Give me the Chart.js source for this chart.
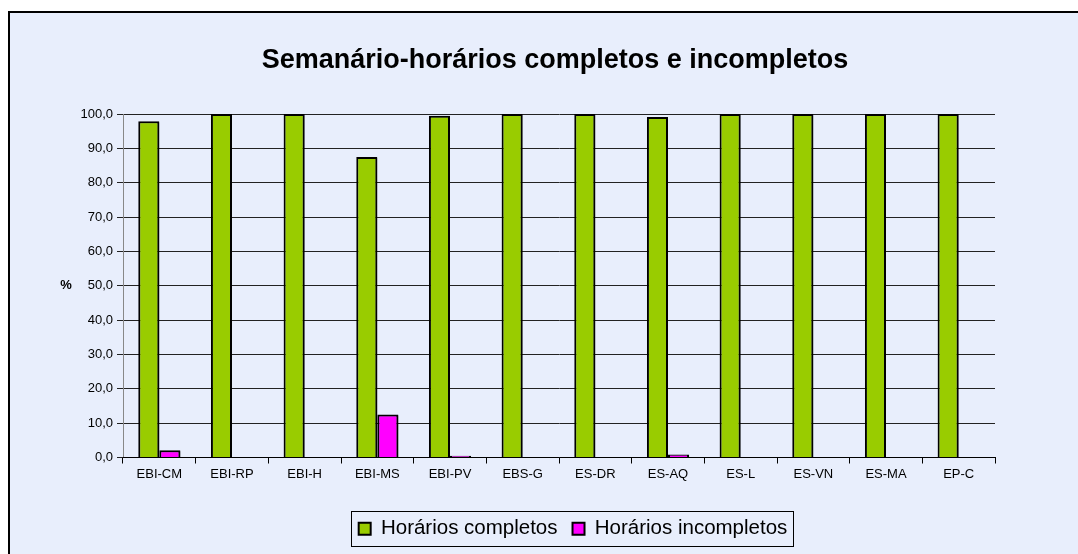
<!DOCTYPE html>
<html>
<head>
<meta charset="utf-8">
<script src="https://cdn.jsdelivr.net/npm/chart.js@4.4.1/dist/chart.umd.min.js"></script>
<style>
  html, body { margin: 0; padding: 0; background: #ffffff; }
  #wrap { width: 1078px; height: 554px; }
</style>
</head>
<body>
<div id="wrap"><canvas id="myChart" width="1078" height="554"></canvas></div>
<script>
const categories = ['EBI-CM', 'EBI-RP', 'EBI-H', 'EBI-MS', 'EBI-PV', 'EBS-G', 'ES-DR', 'ES-AQ', 'ES-L', 'ES-VN', 'ES-MA', 'EP-C'];
const completos = [97.9, 100, 100, 87.5, 99.5, 100, 100, 99.1, 100, 100, 100, 100];
const incompletos = [2.1, 0, 0, 12.5, 0.5, 0, 0, 0.9, 0, 0, 0, 0];
const titleText = 'Semanário-horários completos e incompletos';
const seriesNames = ['Horários completos', 'Horários incompletos'];

const FONT = '"Liberation Sans", Arial, sans-serif';
const LEGEND_SHIFT = 18;

const frame = {
    id: 'frame',
    afterLayout: (chart) => {
        // move legend a little right, like the original
        chart.legend.left += LEGEND_SHIFT;
        chart.legend.right += LEGEND_SHIFT;
    },
    beforeDraw: (chart) => {
        const ctx = chart.ctx;
        ctx.save();
        ctx.fillStyle = '#ffffff';
        ctx.fillRect(0, 0, chart.width, chart.height);
        ctx.fillStyle = '#e8eefc';
        ctx.fillRect(8, 11, chart.width, chart.height);
        ctx.strokeStyle = '#000000';
        ctx.lineWidth = 2;
        ctx.beginPath();
        ctx.moveTo(9, chart.height);
        ctx.lineTo(9, 12);
        ctx.lineTo(chart.width, 12);
        ctx.stroke();
        ctx.restore();
    },
    beforeDatasetsDraw: (chart) => {
        const ctx = chart.ctx;
        ctx.save();
        ctx.shadowColor = 'rgba(0,0,0,0.35)';
        ctx.shadowOffsetX = 2;
        ctx.shadowOffsetY = 1;
        ctx.shadowBlur = 0;
    },
    afterDatasetsDraw: (chart) => {
        chart.ctx.restore();
    },
    afterDraw: (chart) => {
        const ctx = chart.ctx;
        ctx.save();
        // "%" axis label
        ctx.fillStyle = '#000000';
        ctx.font = 'bold 13px ' + FONT;
        ctx.textAlign = 'center';
        ctx.textBaseline = 'middle';
        ctx.fillText('%', 66, (chart.chartArea.top + chart.chartArea.bottom) / 2);
        // legend box (hit boxes are already moved at draw time)
        const boxes = chart.legend.legendHitBoxes;
        if (boxes && boxes.length) {
            const first = boxes[0];
            const last = boxes[boxes.length - 1];
            const x0 = first.left - 8;
            const x1 = last.left + last.width + 5;
            const cy = first.top + first.height / 2;
            ctx.strokeStyle = '#000000';
            ctx.lineWidth = 1;
            ctx.strokeRect(Math.round(x0) + 0.5, Math.round(cy - 17.5) + 0.5, Math.round(x1 - x0), 35);
        }
        ctx.restore();
    }
};

const ctx = document.getElementById('myChart').getContext('2d');
const myChart = new Chart(ctx, {
    type: 'bar',
    data: {
        labels: categories,
        datasets: [{
            label: seriesNames[0],
            data: completos,
            backgroundColor: '#99cc00',
            borderColor: '#000000',
            borderWidth: 2
        }, {
            label: seriesNames[1],
            data: incompletos,
            backgroundColor: '#ff00ff',
            borderColor: '#000000',
            borderWidth: 2
        }]
    },
    options: {
        responsive: false,
        animation: false,
        devicePixelRatio: 1,
        categoryPercentage: 0.58,
        barPercentage: 1,
        layout: {
            padding: { left: 32, right: 0, top: 0, bottom: 5 }
        },
        scales: {
            y: {
                min: 0,
                max: 100,
                afterFit: (scale) => { scale.width = 91; },
                ticks: {
                    stepSize: 10,
                    color: '#000000',
                    padding: 4,
                    font: { family: FONT, size: 13 },
                    callback: (v) => v.toFixed(1).replace('.', ',')
                },
                grid: {
                    color: '#222222',
                    lineWidth: 1,
                    tickLength: 6,
                    drawTicks: true
                },
                border: { color: '#888888', width: 1 }
            },
            yRight: {
                position: 'right',
                display: true,
                afterFit: (scale) => { scale.width = 83; },
                ticks: { display: false },
                grid: { display: false, drawTicks: false },
                border: { display: false }
            },
            x: {
                afterFit: (scale) => { scale.height = 46; },
                ticks: {
                    color: '#000000',
                    padding: 3,
                    font: { family: FONT, size: 13 }
                },
                grid: {
                    offset: true,
                    drawOnChartArea: false,
                    color: '#000000',
                    tickLength: 6
                },
                border: { color: '#000000', width: 1 }
            }
        },
        plugins: {
            title: {
                display: true,
                text: titleText,
                color: '#000000',
                font: { family: FONT, size: 27, weight: 'bold' },
                padding: { top: 44, bottom: 37.6 }
            },
            legend: {
                position: 'bottom',
                labels: {
                    color: '#000000',
                    boxWidth: 12,
                    boxHeight: 12,
                    padding: 15,
                    font: { family: FONT, size: 20.5 }
                }
            },
            tooltip: { enabled: false }
        }
    },
    plugins: [frame]
});
</script>
</body>
</html>
